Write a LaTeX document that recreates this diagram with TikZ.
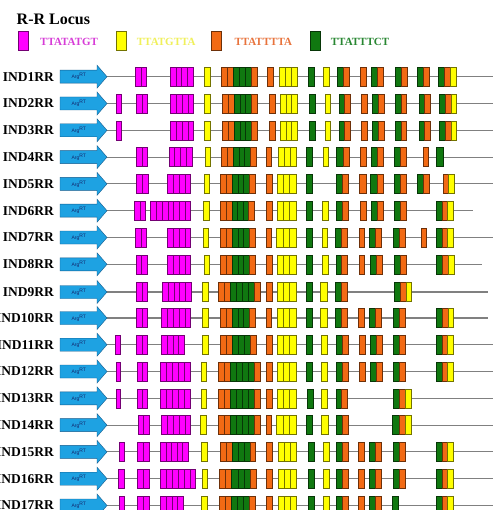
\documentclass[tikz,border=0pt]{standalone}
\usepackage{fontspec}
\setmainfont{Liberation Serif}
\newfontfamily\argfont{Liberation Sans}
\definecolor{cM}{RGB}{255,0,255}
\definecolor{cY}{RGB}{255,255,0}
\definecolor{cO}{RGB}{242,106,20}
\definecolor{cG}{RGB}{16,120,16}
\definecolor{arrowblue}{RGB}{30,162,226}
\definecolor{arrowedge}{RGB}{20,90,140}
\definecolor{argtext}{RGB}{20,40,110}
\definecolor{legM}{RGB}{215,60,215}
\definecolor{legY}{RGB}{240,240,90}
\definecolor{legO}{RGB}{232,115,60}
\definecolor{legG}{RGB}{40,135,50}
\tikzset{
  backbone/.style={draw=black!50, line width=1.1pt},
  argarrow/.style={fill=arrowblue, draw=arrowedge, line width=0.4pt},
  lab/.style={font=\fontsize{13.5}{14}\selectfont\bfseries, inner sep=0pt, anchor=east},
  argtxt/.style={font=\argfont\fontsize{5}{5}\selectfont, text=argtext, inner sep=0pt},
  cell/.style={line width=0.5pt},
  legtxt/.style={font=\fontsize{11}{12}\selectfont\bfseries, inner sep=0pt, anchor=west},
}
\newcommand\locusrow[4]{%
  \coordinate (s#1) at (100,#2);
  \coordinate (e#1) at (#3,#2);
  \draw[backbone] (s#1) -- (e#1);
  \draw[argarrow] (60,#2-6.5) -- (97,#2-6.5) -- (97,#2-11.5) -- (107,#2) -- (97,#2+11.5) -- (97,#2+6.5) -- (60,#2+6.5) -- cycle;
  \node[lab] (l#1) at (54,#2) {IND#1RR};
  \node[argtxt] (a#1) at (79,#2) {Arg\textsuperscript{RT}};
  \foreach \xa/\cw/\cl in {#4} {
    \foreach \c [count=\i from 0] in \cl {
      \draw[cell, fill=c\c, draw=c\c!45!black] (\xa+\i*\cw, #2-9.5) rectangle ++(\cw, 19);
    }
  }
}
\begin{document}
\begin{tikzpicture}[x=1pt, y=-1pt]
\useasboundingbox (0,0) rectangle (493,510);
\clip (0,0) rectangle (493,510);
\fill[white] (0,0) rectangle (493,510);
% legend
\node[font=\fontsize{16}{17}\selectfont\bfseries, inner sep=0pt, anchor=west] (title) at (16.5,19.5) {R-R Locus};
\draw[cell, fill=cM, draw=cM!45!black] (18.3,31.7) rectangle (28.3,50.7);
\node[legtxt, text=legM] (tM) at (40,41.7) {TTATATGT};
\draw[cell, fill=cY, draw=cY!45!black] (116,31.7) rectangle (126,50.7);
\node[legtxt, text=legY] (tY) at (136.7,41.7) {TTATGTTA};
\draw[cell, fill=cO, draw=cO!45!black] (211.7,31.7) rectangle (221.7,50.7);
\node[legtxt, text=legO] (tO) at (234.3,41.7) {TTATTTTA};
\draw[cell, fill=cG, draw=cG!45!black] (310,31.7) rectangle (320.7,50.7);
\node[legtxt, text=legG] (tG) at (330.7,41.7) {TTATTTCT};
% rows
\locusrow{1}{76.7}{493}{135/5.85/{M,M}, 170/5.8/{M,M,M,M}, 204.3/6/{Y}, 221.7/5.85/{O,O,G,G,G,O}, 267.3/5.5/{O}, 279.3/5.85/{Y,Y,Y}, 308.3/6/{G}, 323.3/6/{Y}, 337.3/6/{G,O}, 360.7/5.5/{O}, 371.7/6/{G,O}, 395/6/{G,O}, 417.3/6/{G,O}, 438.3/5.9/{G,O,Y}}
\locusrow{2}{103.5}{493}{116/5/{M}, 136/5.85/{M,M}, 170.7/5.7/{M,M,M,M}, 204.3/6/{Y}, 222.3/5.85/{O,O,G,G,G,O}, 269.3/5.5/{O}, 280/5.8/{Y,Y,Y}, 309.3/5.5/{G}, 325/5.5/{Y}, 339/5.6/{G,O}, 361.7/5.2/{O}, 372.3/5.85/{G,O}, 395/5.85/{G,O}, 419/5.6/{G,O}, 439.3/5.8/{G,O,Y}}
\locusrow{3}{130.3}{493}{116/5.5/{M}, 170.7/5.7/{M,M,M,M}, 204.3/6/{Y}, 222.3/5.85/{O,O,G,G,G,O}, 269.3/5.5/{O}, 280/5.8/{Y,Y,Y}, 309.3/5.5/{G}, 325/5.5/{Y}, 339/5.6/{G,O}, 361.7/5.2/{O}, 372.3/5.85/{G,O}, 395/5.85/{G,O}, 419/5.6/{G,O}, 439.3/5.8/{G,O,Y}}
\locusrow{4}{157.1}{493}{136/5.85/{M,M}, 169/5.7/{M,M,M,M}, 205/5.7/{Y}, 221.7/5.7/{O,O,G,G,G,O}, 266.7/5/{O}, 278.3/6.1/{Y,Y,Y}, 306.7/6/{G}, 323.3/5/{Y}, 336.7/6.1/{G,O}, 360.7/5.3/{O}, 371.7/5.8/{G,O}, 394/6/{G,O}, 423.3/5/{O}, 436.7/6.6/{G}}
\locusrow{5}{183.9}{493}{136/6.15/{M,M}, 167.3/5.85/{M,M,M,M}, 204/5.3/{Y}, 220.7/5.7/{O,O,G,G,G,O}, 266.7/5.6/{O}, 277.3/6.2/{Y,Y,Y}, 306.7/6/{G}, 336/6.15/{G,O}, 359.3/6.7/{O}, 370.7/6.3/{G,O}, 394.3/5.85/{G,O}, 417.7/5.8/{G,O}, 443.3/5.35/{O,Y}}
\locusrow{6}{210.7}{473.3}{134/5.85/{M,M}, 150.7/5.7/{M,M,M,M,M,M,M}, 203.3/6/{Y}, 220.7/5.6/{O,O,G,G,G,O}, 266.7/5.6/{O}, 277.3/6.2/{Y,Y,Y}, 306.7/6/{G}, 322.7/5.6/{Y}, 336.7/5.8/{G,O}, 360/6/{O}, 371/6.15/{G,O}, 394/6/{G,O}, 436/5.8/{G,O,Y}}
\locusrow{7}{237.5}{493}{135.7/5.5/{M,M}, 167.3/5.85/{M,M,M,M}, 203.3/5.4/{Y}, 220.7/5.7/{O,O,G,G,G,O}, 266/5.7/{O}, 276.7/6.4/{Y,Y,Y}, 306.7/6/{G}, 322.3/5.4/{Y}, 335.7/5.8/{G,O}, 359/5.3/{O}, 369.3/6.2/{G,O}, 393.3/5.85/{G,O}, 421/5.7/{O}, 436/5.8/{G,O,Y}}
\locusrow{8}{264.3}{481.7}{136/5.7/{M,M}, 167.3/5.85/{M,M,M,M}, 204/5.3/{Y}, 220.7/5.7/{O,O,G,G,G,O}, 266.7/5.6/{O}, 277.3/6.2/{Y,Y,Y}, 306.7/6/{G}, 322.7/5.6/{Y}, 336/5.7/{G,O}, 359/5.3/{O}, 370/6.3/{G,O}, 394/6/{G,O}, 436.7/5.8/{G,O,Y}}
\locusrow{9}{292}{488}{136/5.85/{M,M}, 162.3/5.75/{M,M,M,M,M}, 202.7/5.6/{Y}, 218.3/6/{O,O,G,G,G,G,O}, 266/6.3/{O}, 277.3/6.2/{Y,Y,Y}, 306.7/6/{G}, 320.7/6.6/{Y}, 335.7/5.8/{G,O}, 394/5.9/{G,O,Y}}
\locusrow{10}{318}{488}{136.7/5.5/{M,M}, 161.7/5.8/{M,M,M,M,M}, 202.7/5.6/{Y}, 220.7/5.7/{O,O,G,G,G,O}, 266/5.7/{O}, 277.3/6.2/{Y,Y,Y}, 306.7/6/{G}, 320.7/6.6/{Y}, 335.7/5.8/{G,O}, 358.3/5.7/{O}, 369.3/6.2/{G,O}, 393.3/6.2/{G,O}, 436.7/5.6/{G,O,Y}}
\locusrow{11}{344.7}{493}{115/5.7/{M}, 136.7/5.5/{M,M}, 161.7/5.65/{M,M,M,M}, 202.7/5.6/{Y}, 220.7/5.85/{O,O,G,G,G,O}, 266.7/5.6/{O}, 277.3/6.2/{Y,Y,Y}, 306.7/6/{G}, 321.7/5.6/{Y}, 336/6.15/{G,O}, 359.3/5.7/{O}, 370/6.3/{G,O}, 393.3/6.2/{G,O}, 436/5.8/{G,O,Y}}
\locusrow{12}{371.5}{493}{116/4.7/{M}, 137.3/5.2/{M,M}, 160/6/{M,M,M,M,M}, 201/5.7/{Y}, 218.3/6/{O,O,G,G,G,G,O}, 266.7/5.6/{O}, 277.3/6.2/{Y,Y,Y}, 306.7/6/{G}, 321.7/5.6/{Y}, 336/6.15/{G,O}, 359.3/5.7/{O}, 370/6.3/{G,O}, 393.3/6.2/{G,O}, 436/5.8/{G,O,Y}}
\locusrow{13}{398.3}{493}{116/4.7/{M}, 137.3/5.2/{M,M}, 160/6/{M,M,M,M,M}, 201.7/5/{Y}, 218.3/6/{O,O,G,G,G,G,O}, 266.7/5.6/{O}, 277.3/6.2/{Y,Y,Y}, 307.7/5.6/{G}, 321.7/5.6/{Y}, 336/5.7/{G,O}, 393.3/6.1/{G,O,Y}}
\locusrow{14}{425.1}{493}{138.3/5.35/{M,M}, 161.7/5.8/{M,M,M,M,M}, 200.7/6/{Y}, 218.3/6/{O,O,G,G,G,G,O}, 266/5.7/{O}, 276.7/6.4/{Y,Y,Y}, 306.7/6/{G}, 321.7/6.6/{Y}, 336/6.15/{G,O}, 392.7/6.3/{G,O,Y}}
\locusrow{15}{451.9}{493}{119/5.3/{M}, 137.3/5.85/{M,M}, 160.7/5.5/{M,M,M,M,M}, 201.7/5.6/{Y}, 220/5.95/{O,O,G,G,G,O}, 266.7/5.6/{O}, 278.3/6.1/{Y,Y,Y}, 308.3/5.6/{G}, 323.3/5.6/{Y}, 336/6.15/{G,O}, 358.3/5.7/{O}, 369/6.3/{G,O}, 393.3/5.85/{G,O}, 436/5.8/{G,O,Y}}
\locusrow{16}{478.7}{493}{118.3/5.7/{M}, 137.3/5.85/{M,M}, 160/5.95/{M,M,M,M,M,M}, 202.3/5.4/{Y}, 219.3/6.2/{O,O,G,G,G,O}, 266.7/5.6/{O}, 278.3/6.1/{Y,Y,Y}, 308.3/5.6/{G}, 323.3/5.6/{Y}, 336/6.15/{G,O}, 358.3/5.7/{O}, 369/6.3/{G,O}, 393.3/5.85/{G,O}, 436/5.8/{G,O,Y}}
\locusrow{17}{505.5}{493}{119/5.3/{M}, 137.3/5.85/{M,M}, 160.7/5.65/{M,M,M,M}, 201.7/5.6/{Y}, 219/6/{O,O,G,G,G,O}, 266.7/5.6/{O}, 278.3/6.1/{Y,Y,Y}, 308.3/5.6/{G}, 323.3/5.6/{Y}, 336/6.15/{G,O}, 358.3/5.7/{O}, 369/6.3/{G,O}, 392.7/5.6/{G}, 436/5.8/{G,O,Y}}
\end{tikzpicture}
\end{document}
